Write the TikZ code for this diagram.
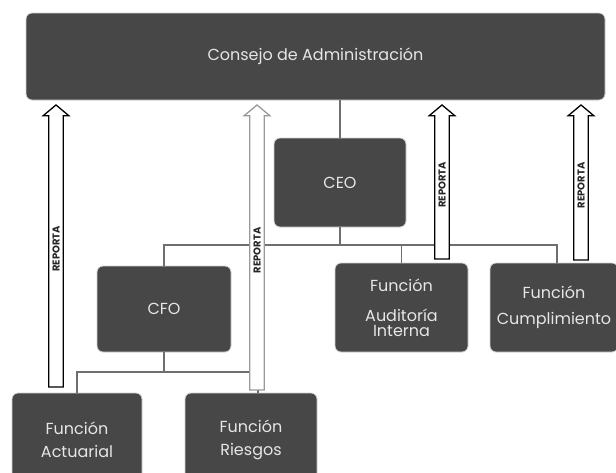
\documentclass[tikz,border=0pt]{standalone}
\usepackage{fontspec}
\setmainfont{Poppins}
\usetikzlibrary{shapes.arrows}
\definecolor{boxfill}{HTML}{474747}
\definecolor{boxtext}{HTML}{E6E6E6}
\definecolor{halo}{HTML}{D4D4D4}
\definecolor{linec}{HTML}{6E6E6E}
\tikzset{
  orgbox/.style={rectangle, rounded corners=6pt, fill=boxfill, draw=halo, line width=0.8pt,
    text=boxtext, font=\fontsize{16}{23}\selectfont, align=center, inner sep=0pt},
  conn/.style={draw=linec, line width=1.4pt},
  uparrow/.style={single arrow, rotate=90, fill=white, draw=black, line width=1.3pt,
    single arrow head extend=5.5pt, single arrow tip angle=100,
    inner xsep=0pt, inner ysep=3pt, font=\bfseries\fontsize{10}{10}\selectfont, text=black!85, anchor=center},
}
\begin{document}
\begin{tikzpicture}[x=1pt,y=-1pt]
\useasboundingbox (0,0) rectangle (616,472);
\fill[white] (0,0) rectangle (616,472);
% boxes
\node[orgbox, minimum width=579pt, minimum height=87pt] (consejo) at (315.5,56.5) {Consejo de Administración};
\node[orgbox, minimum width=132pt, minimum height=89pt] (ceo) at (340,182.5) {CEO};
\node[orgbox, minimum width=134pt, minimum height=86pt] (cfo) at (164,309) {CFO};
\node[orgbox, minimum width=133pt, minimum height=89pt] (aud) at (401.5,307.5) {Función\\[7pt]Auditoría\\[-8pt]Interna};
\node[orgbox, minimum width=128pt, minimum height=89pt] (cum) at (554,307.5) {Función\\[3pt]Cumplimiento};
\node[orgbox, minimum width=130pt, minimum height=94pt] (act) at (77,440) {Función\\Actuarial};
\node[orgbox, minimum width=132pt, minimum height=94pt] (rie) at (251,440) {Función\\Riesgos};
% connector levels
\coordinate (bus) at (0,245);
\coordinate (low) at (0,372);
\coordinate (cumtop) at (557,263);
\coordinate (rietop) at (258,393);
% connectors
\draw[conn] (ceo.north) -- (ceo.north |- consejo.south);
\draw[conn] (ceo.south) -- (ceo.south |- bus);
\draw[conn] (cfo.north) -- (cfo.north |- bus) -- (cumtop |- bus) -- (cumtop);
\draw[conn] (aud.north) -- (aud.north |- bus);
\draw[conn] (cfo.south) -- (cfo.south |- low);
\draw[conn] (act.north) -- (act.north |- low) -- (rietop |- low) -- (rietop);
% report arrows
\node[uparrow, minimum height=282pt] (r1) at (56,249) {REPORTA};
\node[uparrow, draw=gray!80, minimum height=285pt] (r2) at (257,250.5) {REPORTA};
\node[uparrow, minimum height=154pt] (r3) at (442,185) {REPORTA};
\node[uparrow, minimum height=155pt] (r4) at (581,185.5) {REPORTA};
\end{tikzpicture}
\end{document}
